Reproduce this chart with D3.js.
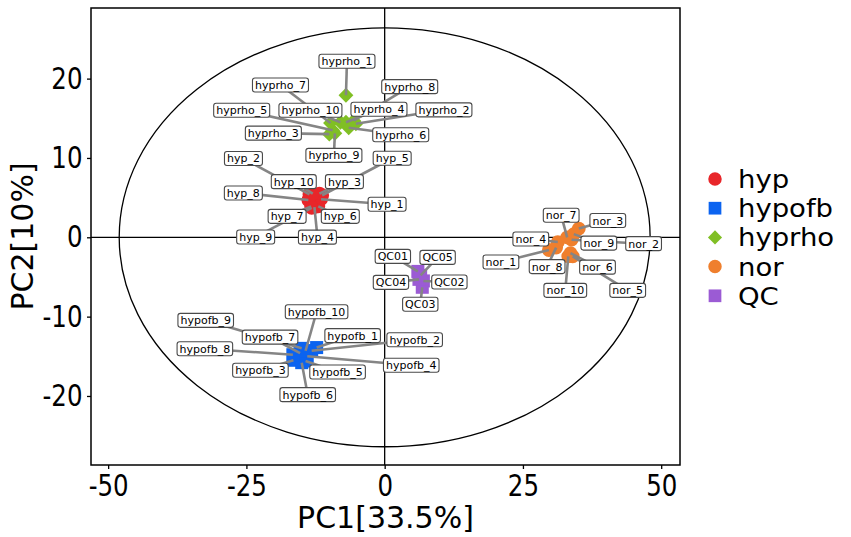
<!DOCTYPE html>
<html>
<head>
<meta charset="utf-8">
<script src="https://cdn.jsdelivr.net/npm/d3@7"></script>
<style>
  html, body { margin: 0; padding: 0; background: #fff; }
  svg { display: block; font-family: "DejaVu Sans", sans-serif; }
</style>
</head>
<body>
<svg id="chart" width="851" height="537"></svg>
<script>
// ---------------- DATA ----------------
const groups = ["hyp", "hypofb", "hyprho", "nor", "QC"];
const groupColors = ["#e8262a", "#0b63f0", "#80bf24", "#ef7f2d", "#9b5bd4"];
const groupShapes = ["circle", "square", "diamond", "circle", "square"];

const hypNames = ["hyp_1","hyp_2","hyp_3","hyp_4","hyp_5","hyp_6","hyp_7","hyp_8","hyp_9","hyp_10"];
const hypPC1 = [-11.5, -13.6, -11.8, -12.7, -11.3, -12.0, -13.3, -13.8, -13.2, -13.0];
const hypPC2 = [4.8, 5.4, 5.5, 3.8, 5.3, 3.9, 3.9, 4.7, 3.7, 5.5];

const hypofbNames = ["hypofb_1","hypofb_2","hypofb_3","hypofb_4","hypofb_5","hypofb_6","hypofb_7","hypofb_8","hypofb_9","hypofb_10"];
const hypofbPC1 = [-12.3, -13.2, -16.5, -14.0, -14.3, -15.0, -15.3, -16.6, -15.0, -14.3];
const hypofbPC2 = [-13.9, -14.3, -15.5, -15.0, -15.6, -15.8, -14.6, -14.8, -14.0, -14.3];

const hyprhoNames = ["hyprho_1","hyprho_2","hyprho_3","hyprho_4","hyprho_5","hyprho_6","hyprho_7","hyprho_8","hyprho_9","hyprho_10"];
const hyprhoPC1 = [-7.0, -5.2, -10.0, -7.0, -9.4, -6.5, -9.8, -5.6, -9.0, -8.0];
const hyprhoPC2 = [17.9, 14.3, 13.0, 14.5, 13.5, 13.8, 14.4, 14.7, 13.1, 14.5];

const norNames = ["nor_1","nor_2","nor_3","nor_4","nor_5","nor_6","nor_7","nor_8","nor_9","nor_10"];
const norPC1 = [29.7, 33.8, 35.1, 31.3, 34.0, 33.6, 33.0, 31.0, 34.2, 33.2];
const norPC2 = [-1.6, -0.3, 1.1, -0.6, -2.4, -2.0, 0.0, -1.3, 0.4, -2.4];

const qcNames = ["QC01","QC02","QC03","QC04","QC05"];
const qcPC1 = [6.0, 7.0, 6.8, 6.2, 6.5];
const qcPC2 = [-4.3, -5.5, -6.3, -5.3, -4.8];

const xTicks = [-50, -25, 0, 25, 50];
const yTicks = [-20, -10, 0, 10, 20];
const xLabel = "PC1[33.5%]";
const yLabel = "PC2[10%]";
const ellipseRx = 48.0;   // confidence ellipse semi-axes (data units)
const ellipseRy = 26.4;

// ---------------- LAYOUT (label offsets in px, relative to point) ----------------
const labelOffsets = {
  hyp_1:[66,5], hyp_2:[-66,-36], hyp_3:[25,-12], hyp_4:[3,30], hyp_5:[70,-37],
  hyp_6:[22,10], hyp_7:[-24,10], hyp_8:[-65,-7], hyp_9:[-56,29], hyp_10:[-19,-12],
  hypofb_1:[36,-12], hypofb_2:[103,-11], hypofb_3:[-33,10], hypofb_4:[104,9], hypofb_5:[32,11],
  hypofb_6:[6,32], hypofb_7:[-30,-16], hypofb_8:[-88,-6], hypofb_9:[-96,-28], hypofb_10:[11,-39],
  hyprho_1:[1,-34], hyprho_2:[88,-14], hyprho_3:[-56,-1], hyprho_4:[33,-13], hyprho_5:[-91,-20],
  hyprho_6:[52,7], hyprho_7:[-50,-38], hyprho_8:[56,-34], hyprho_9:[-1,22], hyprho_10:[-30,-12],
  nor_1:[-48,12], nor_2:[72,4], nor_3:[29,-8], nor_4:[-27,-3], nor_5:[55,34],
  nor_6:[27,14], nor_7:[-6,-22], nor_8:[-9,19], nor_9:[25,9], nor_10:[-3,34],
  QC01:[-25,-15], QC02:[26,1], QC03:[-2,17], QC04:[-28,3], QC05:[17,-18]
};

const plot = {left: 91, right: 680, top: 8, bottom: 465};
const tickSX = 0.83; // horizontal squeeze of tick labels seen in the reference

const seriesList = [
  {names: hypNames, x: hypPC1, y: hypPC2},
  {names: hypofbNames, x: hypofbPC1, y: hypofbPC2},
  {names: hyprhoNames, x: hyprhoPC1, y: hyprhoPC2},
  {names: norNames, x: norPC1, y: norPC2},
  {names: qcNames, x: qcPC1, y: qcPC2}
];
const points = [];
seriesList.forEach((s, gi) => {
  s.names.forEach((n, i) => points.push({name: n, x: s.x[i], y: s.y[i], g: gi}));
});

const svg = d3.select("#chart");
const x = d3.scaleLinear().domain([-53.1, 53.4]).range([plot.left, plot.right]);
const y = d3.scaleLinear().domain([-28.7, 28.9]).range([plot.bottom, plot.top]);

const symSize = {circle: 150, square: 170, diamond: 110};
function symbolPath(shape, scale = 1) {
  if (shape === "circle") return d3.symbol(d3.symbolCircle, symSize.circle * scale)();
  if (shape === "square") return d3.symbol(d3.symbolSquare, symSize.square * scale)();
  return d3.symbol(d3.symbolSquare, symSize.diamond * scale)(); // rotated 45deg later
}

svg.append("clipPath").attr("id", "clip").append("rect")
  .attr("x", plot.left).attr("y", plot.top)
  .attr("width", plot.right - plot.left).attr("height", plot.bottom - plot.top);

const g = svg.append("g").attr("clip-path", "url(#clip)");

// zero lines
g.append("line").attr("x1", plot.left).attr("x2", plot.right)
  .attr("y1", y(0)).attr("y2", y(0)).attr("stroke", "#000").attr("stroke-width", 1.3);
g.append("line").attr("x1", x(0)).attr("x2", x(0))
  .attr("y1", plot.top).attr("y2", plot.bottom).attr("stroke", "#000").attr("stroke-width", 1.3);

// ellipse
g.append("ellipse").attr("cx", x(0)).attr("cy", y(0))
  .attr("rx", x(ellipseRx) - x(0)).attr("ry", y(0) - y(ellipseRy))
  .attr("fill", "none").attr("stroke", "#000").attr("stroke-width", 1.3);

// markers
g.selectAll("path.pt").data(points).enter().append("path")
  .attr("class", "pt")
  .attr("d", d => symbolPath(groupShapes[d.g]))
  .attr("transform", d => `translate(${x(d.x)},${y(d.y)})` + (groupShapes[d.g] === "diamond" ? " rotate(45)" : ""))
  .attr("fill", d => groupColors[d.g]);

// leader lines
g.selectAll("line.lead").data(points).enter().append("line")
  .attr("class", "lead")
  .attr("x1", d => x(d.x)).attr("y1", d => y(d.y))
  .attr("x2", d => x(d.x) + labelOffsets[d.name][0])
  .attr("y2", d => y(d.y) + labelOffsets[d.name][1])
  .attr("stroke", "#858585").attr("stroke-width", 2.6);

// labels
const lab = g.selectAll("g.lab").data(points).enter().append("g")
  .attr("class", "lab")
  .attr("transform", d => `translate(${x(d.x) + labelOffsets[d.name][0]},${y(d.y) + labelOffsets[d.name][1]})`);
lab.append("rect").attr("class", "box");
lab.append("text").text(d => d.name)
  .attr("text-anchor", "middle").attr("dy", "0.36em")
  .attr("font-size", 11).attr("fill", "#000");
lab.each(function() {
  const t = d3.select(this).select("text").node().getBBox();
  d3.select(this).select("rect")
    .attr("x", t.x - 2.5).attr("y", -7)
    .attr("width", t.width + 5).attr("height", 14)
    .attr("rx", 2.5).attr("fill", "#fff")
    .attr("stroke", "#4a4a4a").attr("stroke-width", 1.1);
});

// frame
svg.append("rect").attr("x", plot.left).attr("y", plot.top)
  .attr("width", plot.right - plot.left).attr("height", plot.bottom - plot.top)
  .attr("fill", "none").attr("stroke", "#000").attr("stroke-width", 1.5);

// axes
const xAxis = svg.append("g").attr("transform", `translate(0,${plot.bottom})`)
  .call(d3.axisBottom(x).tickValues(xTicks).tickSize(4).tickPadding(6).tickFormat(d3.format("d")));
const yAxis = svg.append("g").attr("transform", `translate(${plot.left},0)`)
  .call(d3.axisLeft(y).tickValues(yTicks).tickSize(4).tickPadding(4).tickFormat(d3.format("d")));
[xAxis, yAxis].forEach(a => {
  a.select(".domain").remove();
  a.selectAll(".tick line").attr("stroke", "#000").attr("stroke-width", 1.3);
  a.selectAll(".tick text").attr("font-size", 29.5).attr("fill", "#000")
    .attr("font-family", "DejaVu Sans")
    .text(d => String(d).replace("\u2212", "-"));
});
xAxis.selectAll(".tick text").attr("transform", `scale(${tickSX},1)`);
yAxis.selectAll(".tick text").attr("x", -8.5 / tickSX).attr("transform", `scale(${tickSX},1)`);

// axis labels
svg.append("text").attr("x", (plot.left + plot.right) / 2).attr("y", 528)
  .attr("text-anchor", "middle").attr("font-size", 30).attr("fill", "#000").text(xLabel);
svg.append("text").attr("transform", `translate(33,${(plot.top + plot.bottom) / 2}) rotate(-90)`)
  .attr("text-anchor", "middle").attr("font-size", 30).attr("fill", "#000").text(yLabel);

// legend
const leg = svg.append("g");
groups.forEach((name, i) => {
  const cy = 179 + i * 29.2;
  leg.append("path")
    .attr("d", symbolPath(groupShapes[i], groupShapes[i] === "diamond" ? 0.9 : 0.95))
    .attr("transform", `translate(715,${cy})` + (groupShapes[i] === "diamond" ? " rotate(45)" : ""))
    .attr("fill", groupColors[i]);
  leg.append("text").attr("x", 738).attr("y", cy).attr("dy", "0.36em")
    .attr("font-size", 25).attr("fill", "#000").text(name)
    .attr("transform", `translate(738,0) scale(1.1,1) translate(-738,0)`);
});
</script>
</body>
</html>
